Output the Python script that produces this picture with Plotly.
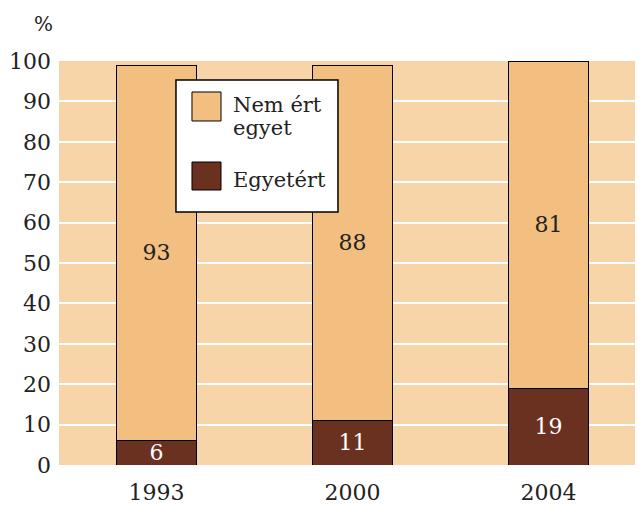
import plotly.graph_objects as go

years = ["1993", "2000", "2004"]
egyetert = [6, 11, 19]
nem_ert_egyet = [93, 88, 81]
y_ticks = [0, 10, 20, 30, 40, 50, 60, 70, 80, 90, 100]
legend_labels = ["Nem ért", "egyet", "Egyetért"]

FONT = "DejaVu Serif"
BG = "#F8D4A9"
LIGHT = "#F3BF80"
DARK = "#6A3120"
TXT = "#222222"

fig = go.Figure()
fig.add_trace(go.Bar(
    x=years, y=egyetert, name="Egyetért",
    marker=dict(color=DARK, line=dict(color="black", width=1)),
    text=[str(v) for v in egyetert], textposition="inside",
    insidetextanchor="middle", textangle=0, constraintext="none",
    textfont=dict(color="white", size=22, family=FONT),
    width=0.405,
))
fig.add_trace(go.Bar(
    x=years, y=nem_ert_egyet, name="Nem ért egyet",
    marker=dict(color=LIGHT, line=dict(color="black", width=1)),
    text=[str(v) for v in nem_ert_egyet], textposition="inside",
    insidetextanchor="middle", textangle=0, constraintext="none",
    textfont=dict(color=TXT, size=22, family=FONT),
    width=0.405,
))

# manual legend (large swatches as in the original)
shapes = [
    dict(type="rect", xref="paper", yref="paper", x0=0.2003, x1=0.4777,
         y0=0.626, y1=0.953, fillcolor="white", line=dict(color="black", width=1.5),
         layer="above"),
    dict(type="rect", xref="paper", yref="paper", x0=0.2277, x1=0.2774,
         y0=0.8515, y1=0.9233, fillcolor=LIGHT, line=dict(color="black", width=1),
         layer="above"),
    dict(type="rect", xref="paper", yref="paper", x0=0.2277, x1=0.2774,
         y0=0.6807, y1=0.75, fillcolor=DARK, line=dict(color="black", width=1),
         layer="above"),
]
legend_y = [0.8906, 0.8346, 0.7054]
annotations = [
    dict(text=t, xref="paper", yref="paper", x=0.2945, y=yy, xanchor="left",
         yanchor="middle", showarrow=False,
         font=dict(size=21, family=FONT, color=TXT))
    for t, yy in zip(legend_labels, legend_y)
]
annotations.append(dict(
    text="%", xref="paper", yref="paper", x=-0.026, y=1.0,
    yshift=23, xanchor="center", yanchor="bottom", showarrow=False,
    font=dict(size=20, family=FONT, color=TXT),
))

fig.update_layout(
    width=635, height=497,
    barmode="stack",
    margin=dict(l=51, r=0, t=53, b=40),
    plot_bgcolor=BG, paper_bgcolor="white",
    font=dict(family=FONT, size=22, color=TXT),
    showlegend=False,
    shapes=shapes,
    annotations=annotations,
    xaxis=dict(
        type="category", range=[-0.497, 2.482],
        showgrid=False, zeroline=False, showline=False,
        ticks="", tickfont=dict(size=22, family=FONT, color=TXT),
        ticklabelstandoff=12,
    ),
    yaxis=dict(
        range=[0, 100], tickvals=y_ticks,
        showgrid=True, gridcolor="white", gridwidth=2,
        zeroline=False, showline=False, ticks="",
        tickfont=dict(size=22, family=FONT, color=TXT),
        ticklabelstandoff=7,
    ),
)

fig.write_html("out.html")
